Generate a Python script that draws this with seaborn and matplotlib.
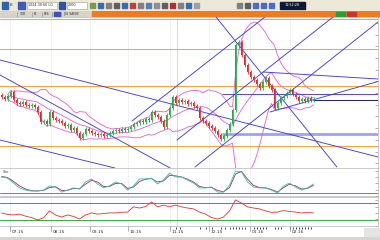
import numpy as np
import pandas as pd
import matplotlib
matplotlib.use("Agg")
import matplotlib.pyplot as plt
from matplotlib.patches import Rectangle
import seaborn as sns

sns.set_theme(style="white")
plt.rcParams['font.family'] = ['DejaVu Sans']

# ---------------- data ----------------
close = [83, 81, 84, 88, 80, 77, 76, 78, 75, 74,
         75, 73, 68, 58, 59, 56, 68, 62, 60, 59,
         57, 54, 55, 50, 52, 47, 42, 46, 51, 49,
         47, 46, 45, 46, 44, 45, 47, 49, 50, 49,
         51, 50, 51, 53, 56, 57, 59, 58, 61, 60,
         68, 65, 63, 59, 53, 65, 72, 83, 77, 80,
         78, 79, 76, 77, 74, 72, 62, 59, 57, 54,
         52, 49, 45, 41, 44, 50, 56, 70, 135, 138,
         125, 115, 108, 103, 100, 96, 92, 98, 102, 94,
         90, 72, 77, 82, 84, 87, 90, 86, 83, 79,
         81, 79, 82, 80, 81]
first_open = 85

date_labels = ["07.15", "08.15", "09.15", "10.15", "11.15", "12.15", "01.16", "02.16"]
date_idx = [2.8, 16.5, 29.5, 42.2, 56.2, 69.2, 82.8, 96.2]

osc_idx = list(range(0, 105, 2))
stoch_k = [68, 64, 46, 29, 21, 18, 18, 21, 36, 32, 14, 21, 29, 25, 50, 61, 43, 29, 36, 50,
           43, 21, 36, 61, 61, 64, 43, 57, 82, 68, 68, 57, 46, 29, 29, 32, 14, 14, 39, 89,
           86, 50, 32, 29, 29, 21, 11, 36, 46, 32, 21, 29, 43]
stoch_d = [70, 66, 52, 36, 25, 19, 18, 20, 30, 33, 20, 20, 27, 26, 42, 56, 50, 34, 34, 45,
           45, 27, 32, 52, 60, 62, 50, 54, 74, 72, 68, 60, 50, 34, 30, 31, 20, 15, 30, 78,
           88, 60, 38, 30, 29, 23, 14, 30, 42, 36, 25, 27, 38]
osc2 = [45, 40, 38, 41, 34, 29, 21, 28, 52, 38, 31, 38, 33, 24, 38, 45, 41, 43, 45, 45,
        47, 48, 66, 62, 67, 83, 66, 72, 66, 72, 66, 62, 59, 48, 41, 29, 24, 31, 52, 90,
        79, 66, 62, 59, 52, 47, 48, 53, 50, 48, 45, 47, 45]

# trend lines: (bar0, price0, bar1, price1)
trend_lines = [
    (-0.5, 120, 125.5, 23),
    (-0.5, 105, 56.2, 12),
    (-0.5, 40, 37.8, 12),
    (43.5, 59, 87.8, 163),
    (58.5, 40, 110.5, 163),
    (64.5, 13, 125.5, 158),
    (71.5, 163, 111.8, 13),
    (87.2, 108, 125.5, 101),
    (89.5, 68, 125.5, 98.5),
]
orange_levels = [161, 131, 94, 34]
blue_level = (73.5, 86)
navy_level = (103.8, 80)
lavender_level = (73.5, 46)
cursor_idx = 58.5
stoch_level = 11
osc2_levels_green = 21
osc2_levels_red = 79
event_idx = [58, 59.5, 66, 68, 70, 73, 74.5, 76, 77, 78, 79, 80, 81, 84, 85, 86, 87, 88,
             91, 92, 93, 96, 97, 98, 99, 100, 101, 102, 103]

# ---------------- figure ----------------
W, H = 380, 240
fig = plt.figure(figsize=(W / 100, H / 100), dpi=100)
fig.patch.set_facecolor('white')


def px_axes(x0, y0, x1, y1):
    return fig.add_axes([x0 / W, 1 - y1 / H, (x1 - x0) / W, (y1 - y0) / H])


XL = (-0.5, 125.5)
SP = '#b4b4b4'


def style(ax, yl, step):
    ax.set_xlim(*XL)
    ax.set_ylim(*yl)
    ax.set_facecolor('white')
    for s in ax.spines.values():
        s.set_color(SP)
        s.set_linewidth(0.5)
    ax.spines['left'].set_visible(False)
    ax.set_xticks([])
    ax.yaxis.tick_right()
    ax.set_yticks(np.arange(yl[1] - step / 2, yl[0], -step))
    ax.tick_params(axis='y', direction='in', length=2.5, width=0.5, colors='#909090',
                   labelright=False, right=True, left=False, labelleft=False)
    for d in date_idx:
        ax.axvline(d, color='#dcdcdc', lw=0.5, ls=(0, (1, 1)), zorder=0)
    ax.axvline(cursor_idx, color='#f0b8b8', lw=0.5, zorder=0)


# ---- main panel ----
ax = px_axes(0, 17, 378, 168)
style(ax, (12, 163), 11.7)

for lv in orange_levels:
    ax.axhline(lv, color='#f2a640', lw=0.75, zorder=1)
ax.hlines(lavender_level[1], lavender_level[0], XL[1], color='#a0a0f5', lw=2.0, zorder=1)

s = pd.Series(close, dtype=float)
mid = s.rolling(13, min_periods=3).mean()
sd = s.rolling(13, min_periods=3).std(ddof=0)
bb = pd.DataFrame({'i': np.arange(len(close)), 'mid': mid, 'up': mid + 2 * sd, 'lo': mid - 2 * sd}).dropna()
for col in ['up', 'mid', 'lo']:
    sns.lineplot(data=bb, x='i', y=col, ax=ax, color='#de5ede', lw=0.6, zorder=2)

for (x0, y0, x1, y1) in trend_lines:
    ax.plot([x0, x1], [y0, y1], color='#4040cc', lw=0.65, zorder=3)
ax.hlines(blue_level[1], blue_level[0], XL[1], color='#4040cc', lw=0.65, zorder=3)
ax.hlines(navy_level[1], navy_level[0], XL[1], color='#1c1c5a', lw=0.7, zorder=3)

opn = [first_open] + close[:-1]
df = pd.DataFrame({'i': np.arange(len(close)), 'o': opn, 'c': close})
df['up'] = df.c >= df.o
df['top'] = df[['o', 'c']].max(axis=1)
df['bot'] = df[['o', 'c']].min(axis=1)
cols = np.where(df.up, '#1fae3a', '#e02828')
ax.vlines(df.i, df.bot - 1.8, df.top + 1.8, colors=cols, lw=0.6, zorder=4)
ax.bar(df.i, np.maximum(df.top - df.bot, 0.9), bottom=df.bot, width=0.62, color=cols, lw=0, zorder=5)
ax.set_xlabel('')
ax.set_ylabel('')

# ---- oscillator 1 ----
ax1 = px_axes(0, 168, 378, 196)
style(ax1, (0, 100), 22)
ax1.axhline(stoch_level, color='#3aa844', lw=0.7)
sns.lineplot(x=osc_idx, y=stoch_d, ax=ax1, color='#8a3c3c', lw=0.6)
sns.lineplot(x=osc_idx, y=stoch_k, ax=ax1, color='#3cb8b8', lw=0.6)
ax1.text(0.3, 93, 'Sto', fontsize=2.8, color='#444444', va='top')

# ---- oscillator 2 ----
ax2 = px_axes(0, 197, 378, 226)
style(ax2, (0, 100), 22)
ax2.axhline(osc2_levels_red, color='#b85858', lw=0.7)
ax2.axhline(osc2_levels_green, color='#3aa844', lw=0.7)
sns.lineplot(x=osc_idx, y=osc2, ax=ax2, color='#e03434', lw=0.6)

# ---- date row ----
axd = px_axes(0, 226, 378, 237)
axd.set_xlim(*XL)
axd.set_ylim(0, 1)
axd.axis('off')
for d, lab in zip(date_idx, date_labels):
    axd.plot([d, d], [0.55, 1.0], color='#909090', lw=0.5)
    axd.text(d + 0.6, 0.45, lab, fontsize=3.2, color='#333333', va='center', ha='left')
axd.scatter(event_idx, [0.82] * len(event_idx), marker='|', s=3, color='#222222', lw=0.6)

# ---- chrome ----
axt = px_axes(0, 0, 380, 11)
axt.set_xlim(0, 380); axt.set_ylim(11, 0); axt.axis('off')
axt.add_patch(Rectangle((0, 0), 380, 11, color='#ece9d8'))
axt.add_patch(Rectangle((2, 2), 6, 7, color='#3060b0'))
axt.text(10, 5.5, 'K', fontsize=3, va='center')
axt.add_patch(Rectangle((18, 2), 7, 7, color='#4058b8'))
axt.add_patch(Rectangle((27, 2), 30, 7, facecolor='white', edgecolor='#999999', lw=0.4))
axt.text(28, 5.5, '1024.30.60 LG', fontsize=2.4, va='center')
axt.add_patch(Rectangle((59, 2), 6, 7, color='#3050b0'))
axt.add_patch(Rectangle((67, 2), 20, 7, facecolor='white', edgecolor='#999999', lw=0.4))
axt.text(68, 5.5, '2000', fontsize=2.4, va='center')
icon_cols = ['#7a9a50', '#3a6ab0', '#808080', '#606060', '#3a6ab0', '#c04040', '#808080',
             '#5080c0', '#909090', '#606060', '#b03030', '#808080', '#3a6ab0', '#a0a0a0']
for k, c in enumerate(icon_cols):
    axt.add_patch(Rectangle((90 + 8 * k, 3), 5, 5, color=c))
for k, c in enumerate(['#808080', '#606060', '#4a6ad0', '#4a6ad0', '#4a6ad0']):
    axt.add_patch(Rectangle((237 + 8 * k, 3), 5, 5, color=c))
axt.add_patch(Rectangle((280, 2), 25, 7, color='#10183a'))
axt.text(292.5, 5.5, '11:52:28', fontsize=2.4, color='white', va='center', ha='center')

axb = px_axes(0, 11, 380, 17)
axb.set_xlim(0, 380); axb.set_ylim(6, 0); axb.axis('off')
axb.add_patch(Rectangle((0, 0), 380, 6, color='#d8d4cc'))
axb.add_patch(Rectangle((92, 0), 288, 6, color='#f07a1e'))
for xs in [17, 32, 42, 52, 61]:
    axb.plot([xs, xs], [0.5, 5.5], color='#888888', lw=0.4)
for xt, t in [(20, '1DB'), (34, 'EL'), (44, 'LBS'), (63, 'JOU SAISIE')]:
    axb.text(xt, 3, t, fontsize=2.2, va='center', color='#333333')
axb.add_patch(Rectangle((54, 1), 6, 4, color='#4050c0'))
axb.add_patch(Rectangle((336, 1), 9, 4, color='#20a040'))
axb.add_patch(Rectangle((347, 1), 9, 4, color='#d03030'))

axf = px_axes(0, 237, 380, 240)
axf.set_xlim(0, 380); axf.set_ylim(0, 1); axf.axis('off')
axf.add_patch(Rectangle((0, 0), 380, 1, color='#d8d4cc'))
axd2 = px_axes(364, 228, 380, 237)
axd2.axis('off')
axd2.add_patch(Rectangle((0, 0), 1, 1, color='#e4e4e4', transform=axd2.transAxes))

fig.savefig('out.png', dpi=100)
